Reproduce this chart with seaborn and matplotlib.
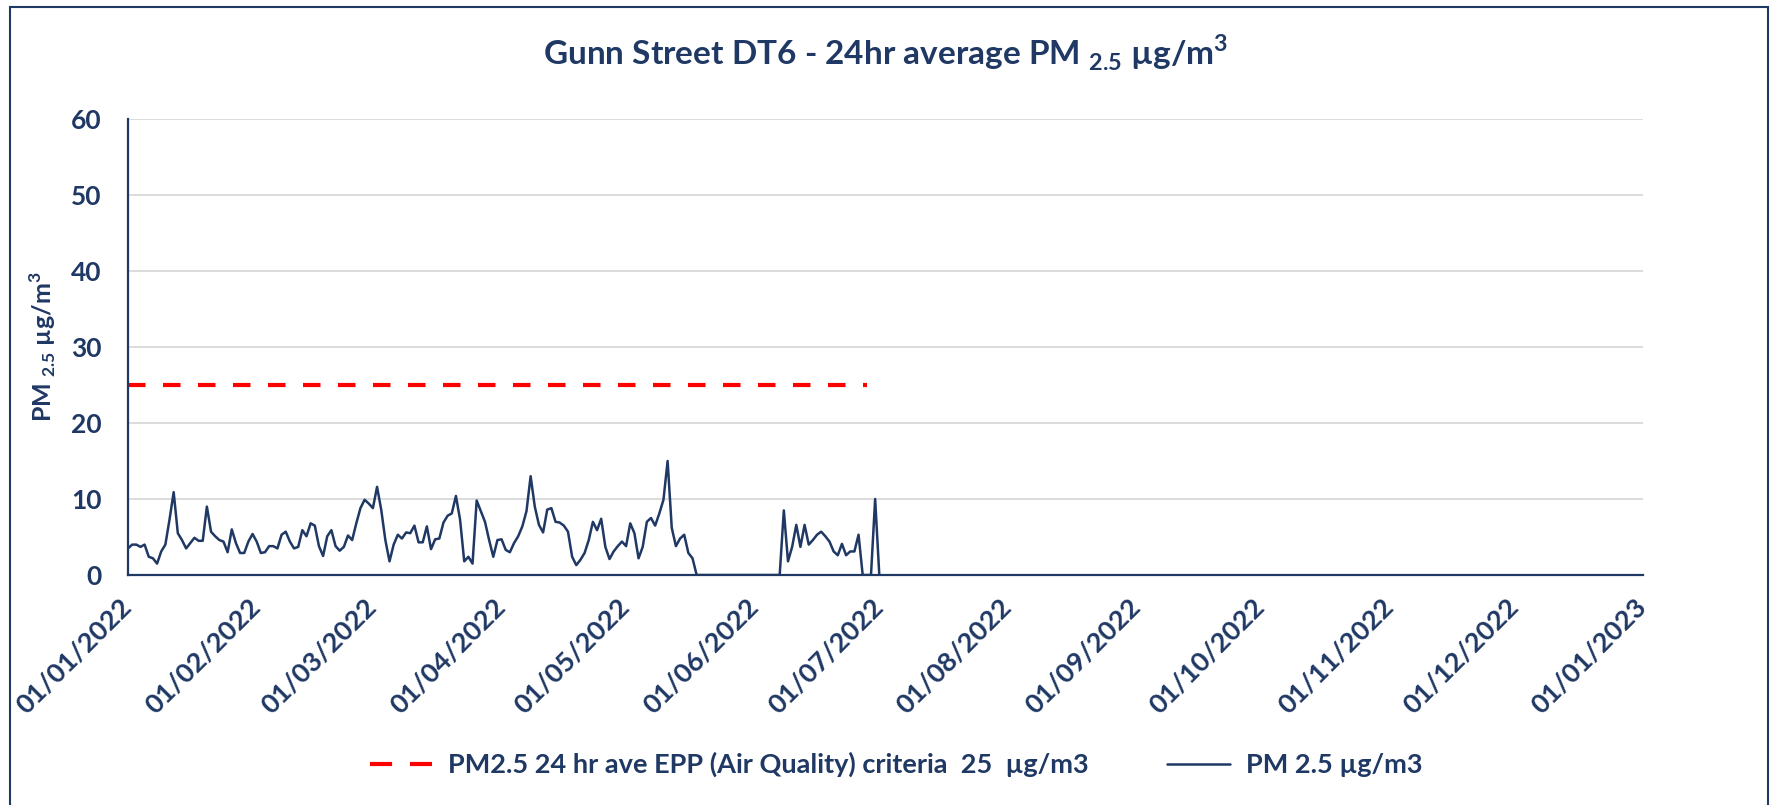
import numpy as np
import pandas as pd
import matplotlib
matplotlib.use("Agg")
import matplotlib.pyplot as plt
import matplotlib.dates as mdates
from matplotlib.lines import Line2D
from matplotlib.patches import Rectangle
import seaborn as sns

# --- data (daily 24hr averages) ---
start_date = "2022-01-01"
pm25 = [
    3.5, 4.0, 4.0, 3.7, 4.0, 2.4, 2.2, 1.5, 3.1, 4.0,
    7.3, 10.9, 5.5, 4.6, 3.5, 4.2, 4.9, 4.5, 4.5, 9.0,
    5.7, 5.1, 4.6, 4.4, 3.0, 6.0, 4.2, 2.9, 2.9, 4.4,
    5.4, 4.4, 2.9, 3.0, 3.8, 3.8, 3.5, 5.3, 5.7, 4.4,
    3.5, 3.7, 5.9, 5.1, 6.8, 6.5, 3.8, 2.5, 5.1, 5.9,
    3.8, 3.2, 3.7, 5.2, 4.6, 6.8, 8.8, 9.9, 9.4, 8.8,
    11.6, 8.6, 4.6, 1.8, 4.0, 5.3, 4.8, 5.6, 5.5, 6.5,
    4.3, 4.3, 6.4, 3.4, 4.7, 4.8, 6.9, 7.8, 8.1, 10.4,
    7.3, 1.8, 2.4, 1.5, 9.8, 8.4, 7.0, 4.6, 2.4, 4.6,
    4.7, 3.3, 3.0, 4.2, 5.1, 6.4, 8.4, 13.0, 9.0, 6.6,
    5.6, 8.6, 8.8, 7.0, 6.9, 6.5, 5.7, 2.4, 1.3, 2.0,
    2.9, 4.6, 7.0, 5.9, 7.4, 3.7, 2.1, 3.1, 3.8, 4.4,
    3.8, 6.8, 5.5, 2.2, 3.7, 7.0, 7.5, 6.5, 8.1, 9.9,
    15.0, 6.2, 3.8, 4.8, 5.3, 2.9, 2.2, 0.0,
    np.nan, np.nan, np.nan, np.nan, np.nan, np.nan, np.nan, np.nan, np.nan, np.nan,
    np.nan, np.nan, np.nan, np.nan, np.nan, np.nan, np.nan, np.nan, np.nan,
    0.0, 8.5, 1.8, 3.7, 6.6, 3.7, 6.6, 4.0, 4.6, 5.3,
    5.7, 5.1, 4.4, 3.1, 2.6, 4.1, 2.6, 3.1, 3.1, 5.3,
    0.0, 0.0, 0.0, 10.0, 0.0,
]
criteria_value = 25
criteria_days = 179

criteria_label = "PM2.5 24 hr ave EPP (Air Quality) criteria  25  µg/m3"
pm_label = "PM 2.5 µg/m3"

dates = pd.date_range(start_date, periods=len(pm25), freq="D")
df = pd.DataFrame({"date": dates, "pm25": pm25})
crit_df = pd.DataFrame({"date": dates[:criteria_days],
                        "criteria": [criteria_value] * criteria_days})

NAVY = "#1F3864"
RED = "#FF0000"

sns.set_theme(style="white")
plt.rcParams["font.family"] = ["Lato", "DejaVu Sans"]
plt.rcParams["mathtext.fontset"] = "custom"
plt.rcParams["mathtext.rm"] = "Lato"
plt.rcParams["mathtext.bf"] = "Lato:bold"

fig = plt.figure(figsize=(17.73, 8.05), dpi=100)
ax = fig.add_axes([0.0722, 0.2857, 0.8545, 0.5665])

sns.lineplot(data=crit_df, x="date", y="criteria", ax=ax, color=RED,
             linewidth=3.0, dashes=False)
ax.lines[-1].set_dashes((4.2, 4.2))
sns.lineplot(data=df, x="date", y="pm25", ax=ax, color=NAVY, linewidth=1.8)

ax.set_xlim(pd.Timestamp("2022-01-01"), pd.Timestamp("2023-01-01"))
ax.set_ylim(0, 60)
ax.set_yticks(range(0, 61, 10))
ax.set_xticks(pd.date_range("2022-01-01", "2023-01-01", freq="MS"))
ax.xaxis.set_major_formatter(mdates.DateFormatter("%d/%m/%Y"))
ax.set_xlabel("")
ax.set_ylabel("")

ax.yaxis.grid(True, color="#D9D9D9", linewidth=1.3)
ax.xaxis.grid(False)
ax.set_axisbelow(True)
for s in ["top", "right"]:
    ax.spines[s].set_visible(False)
for s in ["left", "bottom"]:
    ax.spines[s].set_color(NAVY)
    ax.spines[s].set_linewidth(1.6)

ax.tick_params(axis="y", length=0, pad=19, labelsize=19, labelcolor=NAVY)
ax.tick_params(axis="x", direction="out", length=6, width=1.6, color=NAVY,
               pad=14, labelsize=19.5, labelcolor=NAVY)
for lab in ax.get_yticklabels():
    lab.set_fontweight("bold")
for lab in ax.get_xticklabels():
    lab.set_fontweight("bold")
    lab.set_rotation(45)
    lab.set_ha("right")
    lab.set_va("center")
    lab.set_rotation_mode("anchor")

fig.text(0.4994, 0.934,
         r"Gunn Street DT6 - 24hr average PM $_{\mathbf{2.5}}$ µg/m$^{\mathbf{3}}$",
         ha="center", va="center", fontsize=24, fontweight="bold", color=NAVY)
fig.text(0.0243, 0.569, r"PM $_{\mathbf{2.5}}$ µg/m$^{\mathbf{3}}$",
         ha="center", va="center", rotation=90, fontsize=18,
         fontweight="bold", color=NAVY)

handles = [
    Line2D([], [], color=RED, linewidth=3.0, dashes=(5.3, 4.3)),
    Line2D([], [], color=NAVY, linewidth=1.8),
]
fig.legend(handles, [criteria_label, pm_label], loc="center",
           bbox_to_anchor=(0.5054, 0.05), ncol=2, frameon=False,
           prop={"size": 19.5, "weight": "bold"}, labelcolor=NAVY,
           handlelength=2.3, handletextpad=0.6, columnspacing=2.9)

# outer chart frame
fig.add_artist(Rectangle((0.0056, -0.05), 0.9916, 1.0413,
                         transform=fig.transFigure, fill=False,
                         edgecolor=NAVY, linewidth=1.5))

fig.savefig("out.png", dpi=100)
